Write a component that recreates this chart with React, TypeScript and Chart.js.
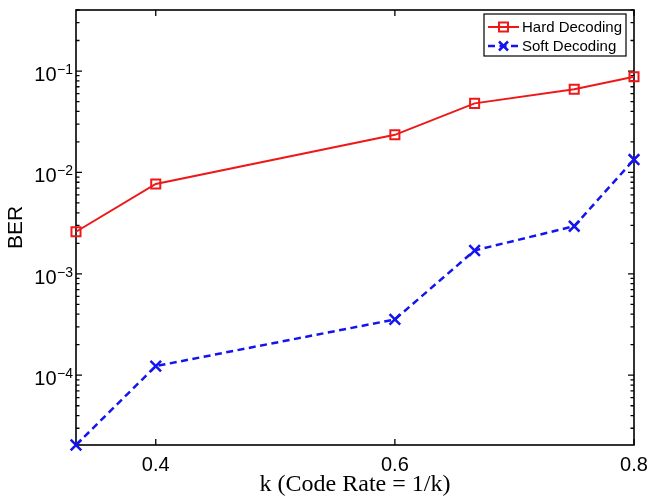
import React, { useEffect, useRef } from "react";
import { Chart, registerables } from "chart.js";

Chart.register(...registerables);

const kValues = [0.3333, 0.4, 0.6, 0.6667, 0.75, 0.8];
const hardBER = [2.6e-3, 7.7e-3, 2.35e-2, 4.8e-2, 6.6e-2, 8.8e-2];
const softBER = [2.05e-5, 1.23e-4, 3.55e-4, 1.7e-3, 2.95e-3, 1.34e-2];
const xTicks = [0.4, 0.6, 0.8];
const yDecades = [-1, -2, -3, -4];
const seriesLabels = ["Hard Decoding", "Soft Decoding"];

const SANS = "'Liberation Sans', Arial, Helvetica, sans-serif";
const SERIF = "'Liberation Serif', 'Times New Roman', serif";
const RED = "rgb(238,24,24)";
const BLUE = "rgb(20,20,240)";

const framePlugin = {
  id: "matlabFrame",
  beforeDatasetsDraw(chart: any) {
    const { ctx, chartArea: a, scales } = chart;
    const ys = scales.y;
    const xs = scales.x;
    ctx.save();
    ctx.strokeStyle = "#000";
    ctx.lineWidth = 1.6;
    ctx.strokeRect(a.left, a.top, a.right - a.left, a.bottom - a.top);
    ctx.lineWidth = 1.3;
    ctx.beginPath();
    for (let e = -6; e <= 0; e++) {
      for (let m = 1; m <= 9; m++) {
        const v = m * Math.pow(10, e);
        if (v < ys.min || v > ys.max) continue;
        const py = ys.getPixelForValue(v);
        const len = m === 1 ? 6 : 3.5;
        ctx.moveTo(a.left, py);
        ctx.lineTo(a.left + len, py);
        ctx.moveTo(a.right, py);
        ctx.lineTo(a.right - len, py);
      }
    }
    for (const t of xTicks) {
      const px = xs.getPixelForValue(t);
      ctx.moveTo(px, a.bottom);
      ctx.lineTo(px, a.bottom - 6);
      ctx.moveTo(px, a.top);
      ctx.lineTo(px, a.top + 6);
    }
    ctx.stroke();

    ctx.fillStyle = "#000";
    ctx.textBaseline = "alphabetic";
    for (const e of yDecades) {
      const py = ys.getPixelForValue(Math.pow(10, e));
      const expText = "\u2212" + String(-e);
      ctx.font = `14px ${SANS}`;
      const ew = ctx.measureText(expText).width;
      const expRight = a.left - 3;
      ctx.textAlign = "right";
      ctx.fillText(expText, expRight, py + 3);
      ctx.font = `20px ${SANS}`;
      ctx.fillText("10", expRight - ew - 0.5, py + 10);
    }
    ctx.restore();
  },
  afterDraw(chart: any) {
    const { ctx, chartArea: a } = chart;
    const ds = chart.data.datasets;
    const w = 142;
    const h = 42;
    const lx = a.right - 8 - w;
    const ly = a.top + 4;
    ctx.save();
    ctx.fillStyle = "#fff";
    ctx.fillRect(lx, ly, w, h);
    ctx.strokeStyle = "#000";
    ctx.lineWidth = 1.2;
    ctx.strokeRect(lx, ly, w, h);
    ds.forEach((d: any, i: number) => {
      const cy = ly + 13 + i * 19;
      const x0 = lx + 4;
      const x1 = lx + 35;
      const cx = (x0 + x1) / 2;
      ctx.strokeStyle = d.borderColor;
      ctx.lineWidth = d.borderWidth;
      ctx.setLineDash(d.borderDash || []);
      ctx.beginPath();
      ctx.moveTo(x0, cy);
      ctx.lineTo(x1, cy);
      ctx.stroke();
      ctx.setLineDash([]);
      ctx.lineWidth = d.pointBorderWidth;
      ctx.beginPath();
      if (d.pointStyle === "rect") {
        ctx.rect(cx - 4.5, cy - 4.5, 9, 9);
      } else {
        ctx.moveTo(cx - 4.5, cy - 4.5);
        ctx.lineTo(cx + 4.5, cy + 4.5);
        ctx.moveTo(cx - 4.5, cy + 4.5);
        ctx.lineTo(cx + 4.5, cy - 4.5);
      }
      ctx.stroke();
      ctx.fillStyle = "#000";
      ctx.font = `15px ${SANS}`;
      ctx.textAlign = "left";
      ctx.textBaseline = "middle";
      ctx.fillText(d.label, x1 + 3, cy + 1);
    });
    ctx.restore();
  },
};

export default function App() {
  const ref = useRef<HTMLCanvasElement | null>(null);
  useEffect(() => {
    if (!ref.current) return;
    const chart = new Chart(ref.current, {
      type: "line",
      data: {
        datasets: [
          {
            label: seriesLabels[0],
            data: kValues.map((k, i) => ({ x: k, y: hardBER[i] })),
            borderColor: RED,
            backgroundColor: "transparent",
            borderWidth: 2,
            pointStyle: "rect",
            pointRadius: 6.4,
            pointBorderWidth: 2,
            pointBorderColor: RED,
            pointBackgroundColor: "transparent",
            tension: 0,
            clip: false,
          } as any,
          {
            label: seriesLabels[1],
            data: kValues.map((k, i) => ({ x: k, y: softBER[i] })),
            borderColor: BLUE,
            backgroundColor: "transparent",
            borderWidth: 2.5,
            borderDash: [7, 4.5],
            pointStyle: "crossRot",
            pointRadius: 7.5,
            pointBorderWidth: 2.5,
            pointBorderColor: BLUE,
            pointBackgroundColor: "transparent",
            tension: 0,
            clip: false,
          } as any,
        ],
      },
      options: {
        animation: false,
        responsive: false,
        events: [],
        layout: { padding: { left: 0, right: 16, top: 5, bottom: 0 } },
        plugins: {
          legend: { display: false },
          tooltip: { enabled: false },
        },
        scales: {
          x: {
            type: "linear",
            min: 0.3333,
            max: 0.8,
            grid: { display: false, drawTicks: false },
            border: { display: false },
            afterBuildTicks: (s: any) => {
              s.ticks = xTicks.map((v) => ({ value: v }));
            },
            afterFit: (s: any) => {
              s.height = 54;
              s.paddingLeft = 0;
              s.paddingRight = 0;
            },
            ticks: {
              padding: 8,
              color: "#000",
              font: { family: SANS, size: 20 },
              maxRotation: 0,
              autoSkip: false,
              callback: (v: any) => Number(v).toFixed(1),
            },
            title: {
              display: true,
              text: "k (Code Rate = 1/k)",
              color: "#000",
              font: { family: SERIF, size: 24 },
              padding: { top: 0, bottom: 0 },
            },
          },
          y: {
            type: "logarithmic",
            min: 2.05e-5,
            max: 0.4,
            grid: { display: false, drawTicks: false },
            border: { display: false },
            ticks: { display: false },
            afterFit: (s: any) => {
              s.width = 76;
              s.paddingTop = 0;
              s.paddingBottom = 0;
            },
            title: {
              display: true,
              text: "BER",
              color: "#000",
              font: { family: SANS, size: 21 },
              padding: { top: 4, bottom: 0 },
            },
          },
        },
      },
      plugins: [framePlugin],
    });
    return () => chart.destroy();
  }, []);
  return (
    <div style={{ position: "fixed", left: 0, top: 0, width: 650, height: 499, background: "#fff" }}>
      <canvas ref={ref} width={650} height={499} style={{ display: "block" }} />
    </div>
  );
}
